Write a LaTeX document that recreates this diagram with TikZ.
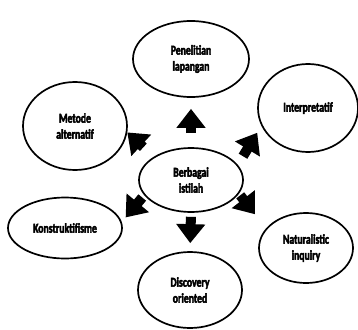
\documentclass[tikz,border=0pt]{standalone}
\usepackage{fontspec}
\setmainfont{Carlito}[FakeStretch=0.72,BoldFeatures={FakeBold=3}]
\usepackage{xcolor}
\definecolor{cInk}{HTML}{000000}
\usepackage{tikz}
\usetikzlibrary{arrows.meta,shapes.geometric}
\tikzset{
  node-term/.style={draw=cInk,line width=1.7pt,ellipse,inner sep=0pt,
    align=center,font=\bfseries\fontsize{13.5}{16}\selectfont},
  % panah blok tebal dari pusat ke tiap istilah
  arrow-block/.style={-{Triangle[length=19pt,width=28pt]},line width=10pt,draw=cInk},
}
\begin{document}
\begin{tikzpicture}[x=1pt,y=-1pt]
  \useasboundingbox (0,0) rectangle (358,329);
  \node[node-term,minimum width=104pt,minimum height=64pt] (istilah) at (191,180) {Berbagai\\istilah};
  \node[node-term,minimum width=116pt,minimum height=76pt] (lapangan) at (191,59) {Penelitian\\lapangan};
  \node[node-term,minimum width=104pt,minimum height=88pt] (metode) at (75,126) {Metode\\alternatif};
  \node[node-term,minimum width=100pt,minimum height=88pt] (interp) at (308,108) {Interpretatif};
  \node[node-term,minimum width=114pt,minimum height=61pt] (konstr) at (65,228) {Konstruktifisme};
  \node[node-term,minimum width=94pt,minimum height=70pt] (natural) at (306,248) {Naturalistic\\inquiry};
  \node[node-term,minimum width=104pt,minimum height=76pt] (discov) at (190,290) {Discovery\\oriented};
  \draw[arrow-block,shorten <=14pt,shorten >=11pt] (istilah.north) -- (lapangan.south);
  \draw[arrow-block,shorten <=4pt,shorten >=8pt] (istilah.south) -- (discov.north);
  \draw[arrow-block,shorten <=14pt] (istilah.north west) -- (metode.-7);
  \draw[arrow-block,shorten <=10pt,shorten >=8pt] (istilah.18) -- (interp.201);
  \draw[arrow-block,shorten <=3pt,shorten >=6pt] (istilah.198) -- (konstr.6);
  \draw[arrow-block,shorten <=2pt,shorten >=18pt] (istilah.-16) -- (natural.154);
\end{tikzpicture}
\end{document}
